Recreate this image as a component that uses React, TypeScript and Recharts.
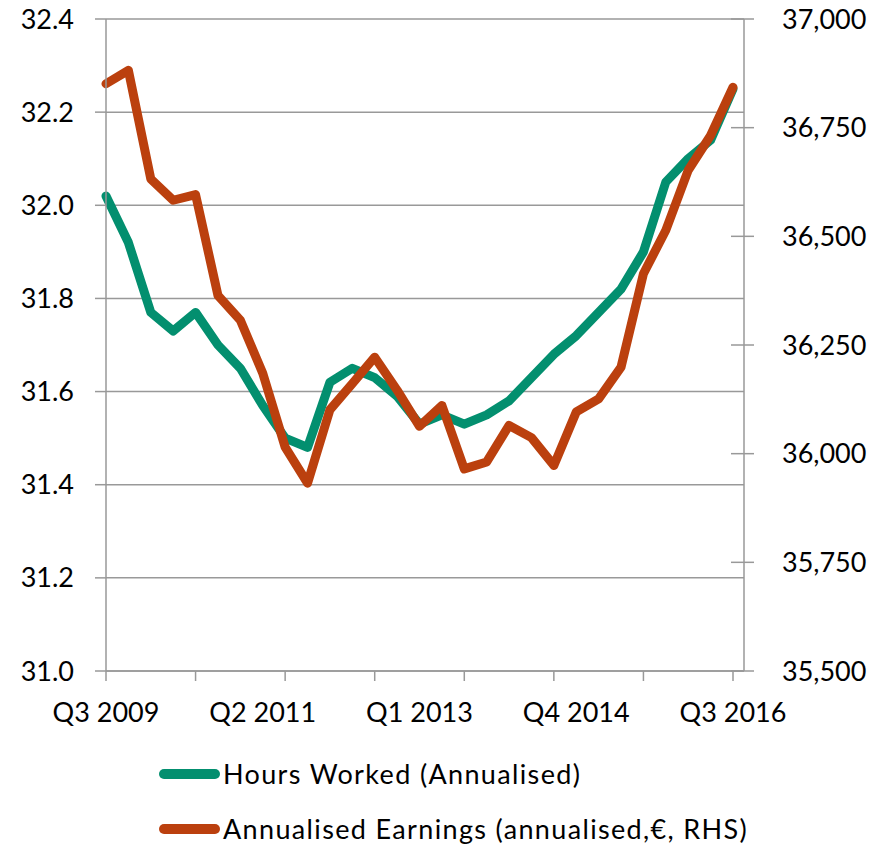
import { LineChart, Line, XAxis, YAxis, CartesianGrid } from 'recharts';

const quarters = [
  'Q3 2009', 'Q4 2009',
  'Q1 2010', 'Q2 2010', 'Q3 2010', 'Q4 2010',
  'Q1 2011', 'Q2 2011', 'Q3 2011', 'Q4 2011',
  'Q1 2012', 'Q2 2012', 'Q3 2012', 'Q4 2012',
  'Q1 2013', 'Q2 2013', 'Q3 2013', 'Q4 2013',
  'Q1 2014', 'Q2 2014', 'Q3 2014', 'Q4 2014',
  'Q1 2015', 'Q2 2015', 'Q3 2015', 'Q4 2015',
  'Q1 2016', 'Q2 2016', 'Q3 2016',
];

// weekly hours, annualised (LHS)
const hoursWorked = [
  32.02, 31.92, 31.77, 31.73, 31.77, 31.70, 31.65, 31.57, 31.50, 31.48,
  31.62, 31.65, 31.63, 31.59, 31.53, 31.55, 31.53, 31.55, 31.58, 31.63,
  31.68, 31.72, 31.77, 31.82, 31.90, 32.05, 32.10, 32.14, 32.25,
];

// annualised earnings, € (RHS)
const annualEarnings = [
  36851, 36882, 36632, 36583, 36596, 36364, 36307, 36185, 36015, 35932,
  36101, 36161, 36222, 36146, 36063, 36111, 35965, 35981, 36065, 36037,
  35973, 36096, 36126, 36199, 36414, 36514, 36652, 36732, 36843,
];

const leftTicks = [31.0, 31.2, 31.4, 31.6, 31.8, 32.0, 32.2, 32.4];
const rightTicks = [35500, 35750, 36000, 36250, 36500, 36750, 37000];

const GREEN = '#038f6f';
const ORANGE = '#bb400e';
const AXIS = '#999999';
const FONT = 'Lato, "Open Sans", sans-serif';
const FONT_SIZE = 27;

const data = quarters.map((q, i) => ({
  q,
  hours: hoursWorked[i],
  earnings: annualEarnings[i],
}));

// x axis: tick marks every 4 quarters, labels every 7
const QuarterTick = (props: any) => {
  const { x, y, payload } = props;
  const idx = typeof props.index === 'number' ? props.index : quarters.indexOf(payload.value);
  return (
    <g>
      {idx % 4 === 0 && <line x1={x} x2={x} y1={y - 32} y2={y - 22} stroke={AXIS} strokeWidth={1.5} />}
      {idx % 7 === 0 && (
        <text x={x} y={y} dy="0.71em" textAnchor="middle" fill="#000" fontSize={FONT_SIZE} fontFamily={FONT}>
          {payload.value}
        </text>
      )}
    </g>
  );
};

// right axis ticks cross the axis line
const EarningsTick = (props: any) => {
  const { x, y, payload } = props;
  return (
    <g>
      <line x1={x - 51} x2={x - 28} y1={y} y2={y} stroke={AXIS} strokeWidth={1.5} />
      <text x={x} y={y} dy="0.355em" textAnchor="start" fill="#000" fontSize={FONT_SIZE} fontFamily={FONT}>
        {Number(payload.value).toLocaleString('en-US')}
      </text>
    </g>
  );
};

const legendItems = [
  { label: 'Hours Worked (Annualised)', color: GREEN, top: 774 },
  { label: 'Annualised Earnings (annualised,€, RHS)', color: ORANGE, top: 829 },
];

export default function App() {
  return (
    <div style={{ position: 'absolute', left: 0, top: 0, width: 888, height: 845, background: '#fff', fontFamily: FONT }}>
      <LineChart width={888} height={741} data={data} margin={{ top: 19, right: 0, bottom: 0, left: 0 }}>
        <CartesianGrid vertical={false} stroke={AXIS} strokeWidth={1.5} yAxisId="left" />
        <XAxis
          dataKey="q"
          interval={0}
          padding={{ left: 0, right: 11 }}
          height={70}
          tickSize={10}
          tickMargin={22}
          tickLine={false}
          axisLine={{ stroke: AXIS, strokeWidth: 1.5 }}
          tick={<QuarterTick />}
        />
        <YAxis
          yAxisId="left"
          width={106}
          domain={[31, 32.4]}
          ticks={leftTicks}
          interval={0}
          tickFormatter={(v: number) => v.toFixed(1)}
          tickSize={11}
          tickMargin={21}
          axisLine={{ stroke: AXIS, strokeWidth: 1.5 }}
          tickLine={{ stroke: AXIS, strokeWidth: 1.5 }}
          tick={{ fill: '#000', fontSize: FONT_SIZE, fontFamily: FONT }}
        />
        <YAxis
          yAxisId="right"
          orientation="right"
          width={144}
          domain={[35500, 37000]}
          ticks={rightTicks}
          interval={0}
          tickSize={10}
          tickMargin={28}
          axisLine={{ stroke: AXIS, strokeWidth: 1.5 }}
          tickLine={false}
          tick={<EarningsTick />}
        />
        <Line
          yAxisId="left"
          type="linear"
          dataKey="hours"
          stroke={GREEN}
          strokeWidth={9}
          strokeLinejoin="round"
          strokeLinecap="round"
          dot={false}
          isAnimationActive={false}
        />
        <Line
          yAxisId="right"
          type="linear"
          dataKey="earnings"
          stroke={ORANGE}
          strokeWidth={9}
          strokeLinejoin="round"
          strokeLinecap="round"
          dot={false}
          isAnimationActive={false}
        />
      </LineChart>
      {legendItems.map((item) => (
        <div key={item.label} style={{ position: 'absolute', left: 159, top: item.top - 20, height: 40, display: 'flex', alignItems: 'center' }}>
          <div style={{ width: 61, height: 10, borderRadius: 5, background: item.color }} />
          <span style={{ marginLeft: 3, fontSize: FONT_SIZE, letterSpacing: 1.35, color: '#000', whiteSpace: 'nowrap', lineHeight: '40px' }}>{item.label}</span>
        </div>
      ))}
    </div>
  );
}
